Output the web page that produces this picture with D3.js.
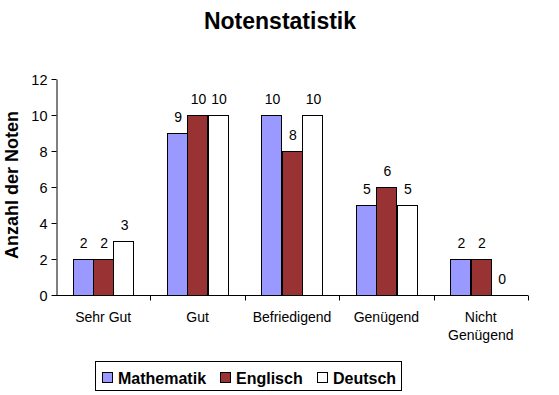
<!DOCTYPE html>
<html>
<head>
<meta charset="utf-8">
<script src="https://cdn.jsdelivr.net/npm/d3@7"></script>
<style>
  body { margin: 0; background: #fff; }
  text { font-family: Arial, "Liberation Sans", sans-serif; }
</style>
</head>
<body>
<script>
var categories = ["Sehr Gut", "Gut", "Befriedigend", "Genügend", "Nicht Genügend"];
var seriesNames = ["Mathematik", "Englisch", "Deutsch"];
var mathematik = [2, 9, 10, 5, 2];
var englisch = [2, 10, 8, 6, 2];
var deutsch = [3, 10, 10, 5, 0];
var yTicks = [0, 2, 4, 6, 8, 10, 12];
var colors = ["#9999FF", "#993333", "#FFFFFF"];

var series = [mathematik, englisch, deutsch];

var width = 559, height = 395;
var plot = {left: 56, right: 528, top: 79, bottom: 295};

var svg = d3.select("body").append("svg")
    .attr("width", width)
    .attr("height", height);

// title
svg.append("text")
    .attr("x", 280).attr("y", 29)
    .attr("text-anchor", "middle")
    .attr("font-size", 23).attr("font-weight", "bold")
    .text("Notenstatistik");

var y = d3.scaleLinear().domain([0, 12]).range([plot.bottom, plot.top]);
var x = d3.scaleBand().domain(categories).range([plot.left, plot.right]).paddingInner(0).paddingOuter(0);
var xInner = d3.scaleBand().domain(seriesNames).range([16.5, x.bandwidth() - 16.5]);

// y axis
var yAxis = svg.append("g")
    .attr("transform", "translate(" + (plot.left + 0.5) + ",0)")
    .call(d3.axisLeft(y).tickValues(yTicks).tickSize(5).tickSizeOuter(0).tickPadding(4));
yAxis.selectAll("text").attr("font-size", 14.5).attr("font-family", "Arial").attr("fill", "#000").attr("dy", "0.35em");
yAxis.selectAll("line, path").attr("stroke", "#000");

// x axis
var xAxis = svg.append("g")
    .attr("transform", "translate(0," + (plot.bottom + 0.5) + ")");
xAxis.append("line")
    .attr("x1", plot.left).attr("x2", plot.right)
    .attr("stroke", "#000");
xAxis.selectAll(".tk")
    .data(categories)
    .enter().append("line")
    .attr("x1", function(d) { return Math.round(x(d) + x.bandwidth()) + 0.5; })
    .attr("x2", function(d) { return Math.round(x(d) + x.bandwidth()) + 0.5; })
    .attr("y1", 0).attr("y2", 5)
    .attr("stroke", "#000");

var catLabels = svg.append("g");
categories.forEach(function(c) {
    var words = c === "Nicht Genügend" ? ["Nicht", "Genügend"] : [c];
    var t = catLabels.append("text")
        .attr("text-anchor", "middle")
        .attr("font-size", 14)
        .attr("x", x(c) + x.bandwidth() / 2)
        .attr("y", 322);
    words.forEach(function(w, i) {
        t.append("tspan")
            .attr("x", x(c) + x.bandwidth() / 2)
            .attr("dy", i === 0 ? 0 : 18)
            .text(w);
    });
});

// y label
svg.append("text")
    .attr("transform", "translate(18," + 185 + ") rotate(-90)")
    .attr("text-anchor", "middle")
    .attr("font-size", 18).attr("font-weight", "bold")
    .text("Anzahl der Noten");

// bars
series.forEach(function(vals, si) {
    var g = svg.append("g");
    g.selectAll("rect")
        .data(vals)
        .enter().append("rect")
        .attr("x", function(d, i) { return Math.round(x(categories[i]) + xInner(seriesNames[si])) + 0.5; })
        .attr("y", function(d) { return y(d) + 0.5; })
        .attr("width", Math.round(xInner.bandwidth()))
        .attr("height", function(d) { return plot.bottom - y(d); })
        .attr("fill", colors[si])
        .attr("stroke", "#000")
        .attr("stroke-width", 1);
    g.selectAll("text")
        .data(vals)
        .enter().append("text")
        .attr("x", function(d, i) { return x(categories[i]) + xInner(seriesNames[si]) + xInner.bandwidth() / 2 + 1; })
        .attr("y", function(d) { return y(d) - 11; })
        .attr("text-anchor", "middle")
        .attr("font-size", 14)
        .text(function(d) { return d; });
});

// legend
var legend = svg.append("g");
legend.append("rect")
    .attr("x", 95.5).attr("y", 361.5)
    .attr("width", 306).attr("height", 29)
    .attr("fill", "#fff").attr("stroke", "#000");
var lx = [102, 220, 317];
seriesNames.forEach(function(n, i) {
    legend.append("rect")
        .attr("x", lx[i] + 0.5).attr("y", 372.5)
        .attr("width", 10).attr("height", 10)
        .attr("fill", colors[i]).attr("stroke", "#000");
    legend.append("text")
        .attr("x", lx[i] + 16).attr("y", 384)
        .attr("font-size", 16).attr("font-weight", "bold")
        .text(n);
});
</script>
</body>
</html>
